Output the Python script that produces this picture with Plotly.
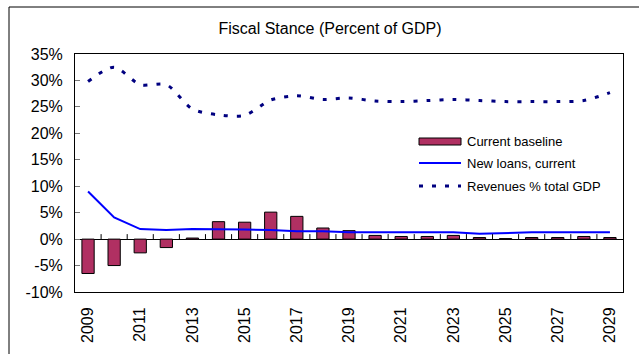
import plotly.graph_objects as go

# ---- data -------------------------------------------------------------
years = [str(y) for y in range(2009, 2030)]
current_baseline = [-6.5, -5.0, -2.6, -1.6, 0.2, 3.3, 3.2, 5.1, 4.3, 2.1, 1.6,
                    0.7, 0.5, 0.5, 0.7, 0.3, 0.1, 0.3, 0.3, 0.5, 0.3]
new_loans = [9.0, 4.1, 1.9, 1.7, 1.9, 1.9, 1.8, 1.7, 1.5, 1.5, 1.3,
             1.3, 1.3, 1.3, 1.3, 1.0, 1.2, 1.3, 1.3, 1.3, 1.3]
revenues = [29.8, 32.5, 29.2, 29.2, 24.6, 23.5, 23.4, 26.3, 27.1, 26.4, 26.7,
            26.1, 26.0, 26.2, 26.4, 26.2, 26.0, 26.0, 26.0, 26.2, 27.7]
series_names = ["Current baseline", "New loans, current", "Revenues % total GDP"]
y_ticks = [-10, -5, 0, 5, 10, 15, 20, 25, 30, 35]
y_tick_text = [f"{v}%" for v in y_ticks]
x_tick_years = years[::2]

# ---- styling ----------------------------------------------------------
W, H = 639, 354
L, R, T, B = 75, 16, 54, 62
BAR_COLOR = "#B03062"
LOAN_COLOR = "#0000FF"
REV_COLOR = "#000080"
REV_DASH = "4px,9px"
FONT = "Liberation Sans, Arial, sans-serif"
Y_MIN, Y_MAX = -10, 35

pw, ph = W - L - R, H - T - B


def px_x(v):
    return (v - L) / pw


def px_y(v):
    return (H - B - v) / ph


fig = go.Figure()
fig.add_trace(go.Bar(
    x=years, y=current_baseline, name=series_names[0],
    marker=dict(color=BAR_COLOR, line=dict(color="#000000", width=1)),
    showlegend=False,
))
fig.add_trace(go.Scatter(
    x=years, y=new_loans, name=series_names[1], mode="lines",
    line=dict(color=LOAN_COLOR, width=2), showlegend=False,
))
fig.add_trace(go.Scatter(
    x=years, y=revenues, name=series_names[2], mode="lines",
    line=dict(color=REV_COLOR, width=3, dash=REV_DASH, shape="spline", smoothing=0.8),
    showlegend=False,
))

shapes = []
# small category-boundary ticks sitting on the zero line
tick_h = 5 * (Y_MAX - Y_MIN) / ph
for i in range(1, len(years)):
    shapes.append(dict(type="line", xref="x", yref="y", x0=i - 0.5, x1=i - 0.5,
                       y0=0, y1=tick_h, line=dict(color="#000000", width=1)))
# outer frame (left and top edges)
shapes.append(dict(type="line", xref="paper", yref="paper",
                   x0=px_x(9), x1=px_x(9), y0=px_y(7), y1=px_y(H + 5),
                   line=dict(color="#000000", width=1)))
shapes.append(dict(type="line", xref="paper", yref="paper",
                   x0=px_x(9), x1=px_x(W + 5), y0=px_y(7), y1=px_y(7),
                   line=dict(color="#000000", width=1)))

# legend
lx0, lx1, ltx = px_x(419), px_x(461), px_x(465)
shapes.append(dict(type="rect", xref="paper", yref="paper",
                   x0=lx0, x1=lx1, y0=px_y(145), y1=px_y(138),
                   fillcolor=BAR_COLOR, line=dict(color="#000000", width=1)))
shapes.append(dict(type="line", xref="paper", yref="paper",
                   x0=lx0, x1=lx1, y0=px_y(163), y1=px_y(163),
                   line=dict(color=LOAN_COLOR, width=2)))
shapes.append(dict(type="line", xref="paper", yref="paper",
                   x0=lx0, x1=lx1, y0=px_y(186), y1=px_y(186),
                   line=dict(color=REV_COLOR, width=3, dash=REV_DASH)))

annotations = []
for name, yy in zip(series_names, [141, 163, 186]):
    annotations.append(dict(text=name, xref="paper", yref="paper", x=ltx, y=px_y(yy),
                            xanchor="left", yanchor="middle", showarrow=False,
                            font=dict(family=FONT, size=13, color="#000000")))

fig.update_layout(
    width=W, height=H,
    margin=dict(l=L, r=R, t=T, b=B),
    paper_bgcolor="#FFFFFF", plot_bgcolor="#FFFFFF",
    font=dict(family=FONT, size=16, color="#000000"),
    title=dict(text="Fiscal Stance (Percent of GDP)", x=330 / W, y=1 - 28 / H,
               xanchor="center", yanchor="middle", xref="container", yref="container",
               font=dict(family=FONT, size=16, color="#000000")),
    bargap=0.53,
    shapes=shapes,
    annotations=annotations,
    showlegend=False,
)
fig.update_xaxes(
    type="category", range=[-0.5, len(years) - 0.5],
    tickmode="array", tickvals=x_tick_years, ticktext=x_tick_years,
    tickangle=-90, ticks="", showgrid=False,
    showline=True, linecolor="#000000", linewidth=1, mirror=True,
    ticklabelstandoff=8,
    tickfont=dict(family=FONT, size=16, color="#000000"),
)
fig.update_yaxes(
    range=[Y_MIN, Y_MAX], tickmode="array", tickvals=y_ticks, ticktext=y_tick_text,
    ticks="inside", ticklen=5, tickcolor="#777777", showgrid=False,
    zeroline=True, zerolinecolor="#000000", zerolinewidth=1,
    showline=True, linecolor="#000000", linewidth=1, mirror=True,
    ticklabelstandoff=8,
    tickfont=dict(family=FONT, size=16, color="#000000"),
)

fig.write_html("out.html")
